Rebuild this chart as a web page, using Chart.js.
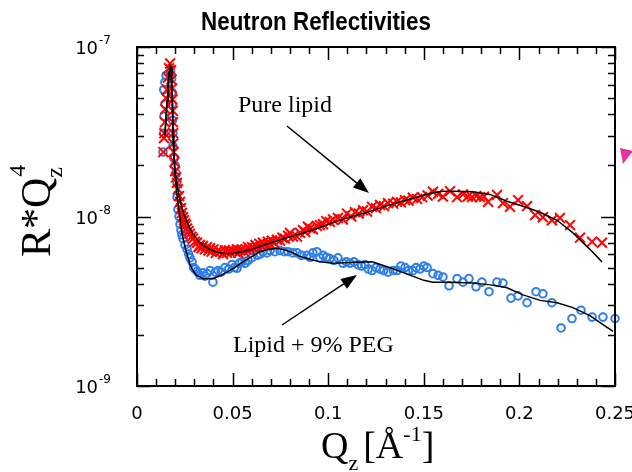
<!DOCTYPE html>
<html>
<head>
<meta charset="utf-8">
<script src="https://cdn.jsdelivr.net/npm/chart.js@4.4.0/dist/chart.umd.min.js"></script>
<style>
html, body { margin: 0; padding: 0; background: #fff; }
</style>
</head>
<body>
<canvas id="grafico" width="632" height="472"></canvas>
<script>
// --- Dados: Pure lipid (cruzes vermelhas) ---
const qPuro = [0.0138, 0.0141, 0.0143, 0.0146, 0.0148, 0.0152, 0.0157, 0.0162, 0.0168, 0.0173,
    0.0178, 0.0181, 0.0183, 0.0185, 0.0187, 0.0188, 0.0189, 0.0190, 0.0192, 0.0196,
    0.0199, 0.0204, 0.0209, 0.0214, 0.0220, 0.0225, 0.0230, 0.0235, 0.0241, 0.0246,
    0.0251, 0.0257, 0.0262, 0.0270, 0.0277, 0.0285, 0.0293, 0.0303, 0.0314, 0.0322,
    0.0329, 0.0337, 0.0345, 0.0355, 0.0366, 0.0374, 0.0382, 0.0390, 0.0400, 0.0412,
    0.0424, 0.0436, 0.0450, 0.0460, 0.0471, 0.0482, 0.0490, 0.0500, 0.0513, 0.0523,
    0.0530, 0.0540, 0.0549, 0.0560, 0.0570, 0.0581, 0.0590, 0.0601, 0.0610, 0.0620,
    0.0628, 0.0640, 0.0650, 0.0659, 0.0670, 0.0685, 0.0696, 0.0705, 0.0718, 0.0732,
    0.0748, 0.0760, 0.0774, 0.0790, 0.0800, 0.0816, 0.0837, 0.0853, 0.0868, 0.0880,
    0.0894, 0.0905, 0.0920, 0.0941, 0.0957, 0.0973, 0.0990, 0.1009, 0.1025, 0.1051,
    0.1077, 0.1098, 0.1120, 0.1140, 0.1160, 0.1182, 0.1203, 0.1229, 0.1250, 0.1271,
    0.1292, 0.1313, 0.1340, 0.1360, 0.1380, 0.1402, 0.1420, 0.1443, 0.1465, 0.1491,
    0.1520, 0.1548, 0.1575, 0.1600, 0.1637, 0.1674, 0.1705, 0.1730, 0.1752, 0.1775,
    0.1794, 0.1815, 0.1836, 0.1883, 0.1914, 0.1951, 0.1993, 0.2040, 0.2082, 0.2123,
    0.2170, 0.2212, 0.2265, 0.2317, 0.2380, 0.2432]
const rPuro = [2.4e-8, 2.9e-8, 3.1e-8, 3.6e-8, 4.3e-8, 5.0e-8, 5.6e-8, 6.6e-8, 7.5e-8, 8.0e-8,
    7.3e-8, 6.4e-8, 5.7e-8, 4.9e-8, 4.2e-8, 3.6e-8, 3.1e-8, 2.7e-8, 2.4e-8, 2.1e-8,
    1.85e-8, 1.7e-8, 1.58e-8, 1.45e-8, 1.32e-8, 1.22e-8, 1.12e-8, 1.05e-8, 9.9e-9, 9.5e-9,
    9.1e-9, 8.9e-9, 8.5e-9, 8.2e-9, 7.9e-9, 7.6e-9, 7.4e-9, 7.1e-9, 7.0e-9, 6.6e-9,
    6.8e-9, 6.5e-9, 6.7e-9, 6.4e-9, 6.6e-9, 6.3e-9, 6.5e-9, 6.2e-9, 6.4e-9, 6.1e-9,
    6.3e-9, 6.2e-9, 6.0e-9, 6.3e-9, 6.1e-9, 6.3e-9, 6.1e-9, 6.3e-9, 6.2e-9, 6.4e-9,
    6.1e-9, 6.3e-9, 6.4e-9, 6.2e-9, 6.4e-9, 6.6e-9, 6.4e-9, 6.6e-9, 6.5e-9, 6.8e-9,
    6.6e-9, 6.9e-9, 6.7e-9, 7.0e-9, 6.8e-9, 7.1e-9, 6.9e-9, 7.2e-9, 7.0e-9, 7.3e-9,
    7.2e-9, 7.5e-9, 7.4e-9, 7.7e-9, 8.0e-9, 7.6e-9, 7.6e-9, 8.0e-9, 8.3e-9, 8.1e-9,
    8.7e-9, 8.5e-9, 8.4e-9, 8.8e-9, 8.9e-9, 9.0e-9, 9.4e-9, 9.3e-9, 9.6e-9, 9.8e-9,
    9.6e-9, 1.04e-8, 1.0e-8, 1.06e-8, 1.04e-8, 1.09e-8, 1.07e-8, 1.14e-8, 1.12e-8, 1.17e-8,
    1.15e-8, 1.20e-8, 1.19e-8, 1.22e-8, 1.21e-8, 1.25e-8, 1.24e-8, 1.29e-8, 1.27e-8, 1.30e-8,
    1.33e-8, 1.40e-8, 1.36e-8, 1.31e-8, 1.41e-8, 1.30e-8, 1.35e-8, 1.31e-8, 1.30e-8, 1.32e-8,
    1.30e-8, 1.31e-8, 1.22e-8, 1.34e-8, 1.20e-8, 1.14e-8, 1.25e-8, 1.15e-8, 1.02e-8, 9.9e-9,
    9.5e-9, 9.8e-9, 8.9e-9, 7.5e-9, 7.1e-9, 7.0e-9]

// --- Dados: Lipid + 9% PEG (círculos azuis) ---
const qPeg = [0.0136, 0.0140, 0.0141, 0.0146, 0.0140, 0.0146, 0.0152, 0.0176, 0.0181, 0.0183,
    0.0184, 0.0186, 0.0188, 0.0188, 0.0194, 0.0199, 0.0204, 0.0209, 0.0209, 0.0214,
    0.0220, 0.0225, 0.0230, 0.0235, 0.0241, 0.0251, 0.0262, 0.0270, 0.0277, 0.0288,
    0.0296, 0.0303, 0.0314, 0.0329, 0.0345, 0.0355, 0.0366, 0.0382, 0.0397, 0.0410,
    0.0424, 0.0440, 0.0460, 0.0480, 0.0497, 0.0510, 0.0523, 0.0535, 0.0549, 0.0565,
    0.0581, 0.0600, 0.0628, 0.0645, 0.0659, 0.0680, 0.0696, 0.0720, 0.0748, 0.0770,
    0.0790, 0.0815, 0.0837, 0.0860, 0.0889, 0.0905, 0.0920, 0.0941, 0.0957, 0.0973,
    0.0990, 0.1009, 0.1030, 0.1051, 0.1077, 0.1095, 0.1114, 0.1135, 0.1156, 0.1175,
    0.1192, 0.1210, 0.1229, 0.1250, 0.1271, 0.1290, 0.1313, 0.1340, 0.1360, 0.1380,
    0.1402, 0.1420, 0.1443, 0.1460, 0.1480, 0.1500, 0.1517, 0.1548, 0.1575, 0.1600,
    0.1632, 0.1674, 0.1705, 0.1736, 0.1773, 0.1804, 0.1841, 0.1883, 0.1914, 0.1956,
    0.1993, 0.2040, 0.2087, 0.2123, 0.2170, 0.2218, 0.2275, 0.2322, 0.2380, 0.2437,
    0.2500]
const rPeg = [2.4e-8, 3.1e-8, 3.9e-8, 4.6e-8, 5.6e-8, 6.2e-8, 6.8e-8, 7.2e-8, 6.5e-8, 5.4e-8,
    4.6e-8, 3.7e-8, 3.1e-8, 2.6e-8, 2.2e-8, 2.0e-8, 1.8e-8, 1.6e-8, 1.3e-8, 1.1e-8,
    1.0e-8, 9.0e-9, 8.3e-9, 7.8e-9, 7.4e-9, 6.8e-9, 6.4e-9, 6.0e-9, 5.7e-9, 5.4e-9,
    5.0e-9, 4.9e-9, 4.75e-9, 4.5e-9, 4.65e-9, 4.45e-9, 4.6e-9, 4.8e-9, 4.1e-9, 4.7e-9,
    4.8e-9, 4.7e-9, 5.0e-9, 4.9e-9, 5.2e-9, 5.0e-9, 4.95e-9, 5.3e-9, 5.4e-9, 5.3e-9,
    5.5e-9, 5.7e-9, 5.9e-9, 6.0e-9, 6.2e-9, 6.1e-9, 6.3e-9, 6.2e-9, 6.3e-9, 6.2e-9,
    6.2e-9, 6.1e-9, 6.1e-9, 5.9e-9, 5.9e-9, 5.75e-9, 6.1e-9, 6.2e-9, 5.7e-9, 5.9e-9,
    5.75e-9, 5.65e-9, 5.5e-9, 5.7e-9, 5.3e-9, 5.4e-9, 5.3e-9, 5.4e-9, 5.2e-9, 5.1e-9,
    5.2e-9, 4.9e-9, 4.8e-9, 5.0e-9, 4.9e-9, 4.8e-9, 4.7e-9, 4.8e-9, 4.8e-9, 5.1e-9,
    5.0e-9, 4.8e-9, 4.8e-9, 5.0e-9, 4.9e-9, 5.1e-9, 5.0e-9, 4.6e-9, 4.5e-9, 4.4e-9,
    3.9e-9, 4.3e-9, 4.1e-9, 4.3e-9, 3.85e-9, 4.1e-9, 3.6e-9, 4.1e-9, 4.05e-9, 3.3e-9,
    3.4e-9, 3.1e-9, 3.6e-9, 3.5e-9, 3.1e-9, 2.2e-9, 2.5e-9, 2.8e-9, 2.55e-9, 2.55e-9,
    2.5e-9]

// --- Ajustes (linhas pretas) ---
const qAjustePuro = [0.0146, 0.0152, 0.0157, 0.0162, 0.0168, 0.0173, 0.0178, 0.0181, 0.0183, 0.0185,
    0.0187, 0.0189, 0.0193, 0.0199, 0.0207, 0.0214, 0.0225, 0.0235, 0.0251, 0.0270,
    0.0293, 0.0320, 0.0350, 0.0380, 0.0420, 0.0460, 0.0500, 0.0550, 0.0600, 0.0650,
    0.0700, 0.0750, 0.0800, 0.0853, 0.0940, 0.1025, 0.1110, 0.1203, 0.1290, 0.1376,
    0.1460, 0.1548, 0.1600, 0.1653, 0.1757, 0.1846, 0.1935, 0.2019, 0.2108, 0.2197,
    0.2280, 0.2369, 0.2432]
const rAjustePuro = [3.0e-8, 3.9e-8, 4.8e-8, 5.9e-8, 7.0e-8, 7.8e-8, 7.6e-8, 6.6e-8, 5.8e-8, 4.7e-8,
    3.8e-8, 3.0e-8, 2.4e-8, 1.9e-8, 1.6e-8, 1.45e-8, 1.25e-8, 1.12e-8, 9.9e-9, 8.8e-9,
    7.9e-9, 7.2e-9, 6.7e-9, 6.4e-9, 6.15e-9, 6.05e-9, 6.05e-9, 6.2e-9, 6.4e-9, 6.7e-9,
    7.0e-9, 7.3e-9, 7.6e-9, 7.9e-9, 8.5e-9, 9.2e-9, 9.9e-9, 1.06e-8, 1.14e-8, 1.22e-8,
    1.30e-8, 1.38e-8, 1.41e-8, 1.41e-8, 1.40e-8, 1.35e-8, 1.23e-8, 1.15e-8, 1.06e-8, 9.5e-9,
    8.0e-9, 6.4e-9, 5.4e-9]
const qAjustePeg = [0.0146, 0.0152, 0.0157, 0.0162, 0.0168, 0.0173, 0.0178, 0.0181, 0.0183, 0.0185,
    0.0187, 0.0189, 0.0193, 0.0199, 0.0207, 0.0214, 0.0225, 0.0235, 0.0251, 0.0262,
    0.0277, 0.0293, 0.0310, 0.0345, 0.0397, 0.0440, 0.0471, 0.0510, 0.0554, 0.0600,
    0.0643, 0.0690, 0.0732, 0.0775, 0.0816, 0.0853, 0.0905, 0.0957, 0.1025, 0.1110,
    0.1229, 0.1320, 0.1407, 0.1500, 0.1548, 0.1632, 0.1757, 0.1850, 0.1935, 0.2019,
    0.2108, 0.2197, 0.2280, 0.2369, 0.2437, 0.2490]
const rAjustePeg = [3.0e-8, 3.9e-8, 4.8e-8, 5.9e-8, 7.0e-8, 7.6e-8, 7.3e-8, 6.3e-8, 5.4e-8, 4.4e-8,
    3.5e-8, 2.8e-8, 2.2e-8, 1.75e-8, 1.4e-8, 1.2e-8, 9.6e-9, 8.0e-9, 6.6e-9, 6.0e-9,
    5.2e-9, 4.8e-9, 4.5e-9, 4.3e-9, 4.3e-9, 4.5e-9, 4.7e-9, 5.0e-9, 5.4e-9, 5.8e-9,
    6.2e-9, 6.4e-9, 6.5e-9, 6.35e-9, 6.1e-9, 5.8e-9, 5.6e-9, 5.4e-9, 5.3e-9, 5.35e-9,
    5.4e-9, 5.0e-9, 4.6e-9, 4.2e-9, 4.1e-9, 4.1e-9, 4.05e-9, 3.95e-9, 3.8e-9, 3.45e-9,
    3.2e-9, 3.1e-9, 2.9e-9, 2.6e-9, 2.3e-9, 2.1e-9]

// --- Eixos ---
const xTicksMaiores = [0, 0.05, 0.1, 0.15, 0.2, 0.25]
const xRotulos = ['0', '0.05', '0.1', '0.15', '0.2', '0.25']
const yExpoentes = [-9, -8, -7]

const pontos = (qs, rs) => qs.map((q, i) => ({ x: q, y: rs[i] }))

// Moldura, ticks para dentro, rótulos e anotações
const moldura = {
    id: 'moldura',
    afterDraw(chart) {
        const ctx = chart.ctx
        const xs = chart.scales.x
        const ys = chart.scales.y
        const { left, right, top, bottom } = chart.chartArea
        ctx.save()
        ctx.strokeStyle = '#000'
        ctx.lineWidth = 1.5

        // ticks de x (0.01 menores, 0.05 maiores)
        for (let k = 0; k <= 25; k++) {
            const px = Math.round(xs.getPixelForValue(k / 100)) + 0.5
            const len = k % 5 === 0 ? 13 : 7
            ctx.beginPath()
            ctx.moveTo(px, bottom); ctx.lineTo(px, bottom - len)
            ctx.moveTo(px, top); ctx.lineTo(px, top + len)
            ctx.stroke()
        }
        // ticks de y (log)
        yExpoentes.forEach(e => {
            for (let m = 1; m <= 9; m++) {
                if (e === -7 && m > 1) break
                const py = Math.round(ys.getPixelForValue(m * Math.pow(10, e))) + 0.5
                const len = m === 1 ? 14 : 7
                ctx.beginPath()
                ctx.moveTo(left, py); ctx.lineTo(left + len, py)
                ctx.moveTo(right, py); ctx.lineTo(right - len, py)
                ctx.stroke()
            }
        })
        ctx.lineWidth = 2
        ctx.strokeRect(left, top, right - left, bottom - top)

        // rótulos de x
        ctx.fillStyle = '#000'
        ctx.font = '18px "DejaVu Sans"'
        ctx.textAlign = 'center'
        ctx.textBaseline = 'alphabetic'
        xTicksMaiores.forEach((v, i) => {
            ctx.fillText(xRotulos[i], xs.getPixelForValue(v), 419)
        })
        // rótulos de y: 10^e
        ctx.textAlign = 'left'
        yExpoentes.forEach(e => {
            const py = ys.getPixelForValue(Math.pow(10, e))
            ctx.font = '18px "DejaVu Sans"'
            const wBase = ctx.measureText('10').width
            ctx.font = '12px "DejaVu Sans"'
            const wExp = ctx.measureText(String(e)).width
            const x0 = 111 - wBase - wExp - 1
            ctx.font = '18px "DejaVu Sans"'
            ctx.fillText('10', x0, py + 7)
            ctx.font = '12px "DejaVu Sans"'
            ctx.fillText(String(e), x0 + wBase + 1, py - 3)
        })

        // título
        ctx.save()
        ctx.font = 'bold 26px "Liberation Sans"'
        ctx.textAlign = 'center'
        ctx.translate(316, 30)
        ctx.scale(0.86, 1)
        ctx.fillText('Neutron Reflectivities', 0, 0)
        ctx.restore()

        // título do eixo x: Q_z [Å^-1]
        ctx.textAlign = 'left'
        let x = 321
        const bx = 458
        ctx.font = '38px "Liberation Serif"'
        ctx.fillText('Q', x, bx); x += ctx.measureText('Q').width
        ctx.font = '22px "Liberation Serif"'
        ctx.fillText('z', x, bx + 12); x += ctx.measureText('z').width + 5
        ctx.font = '38px "Liberation Serif"'
        ctx.fillText('[Å', x, bx); x += ctx.measureText('[Å').width
        ctx.font = '22px "Liberation Serif"'
        ctx.fillText('-1', x, bx - 17); x += ctx.measureText('-1').width
        ctx.font = '38px "Liberation Serif"'
        ctx.fillText(']', x, bx)

        // título do eixo y: R*Q_z^4 (rotacionado)
        ctx.save()
        ctx.translate(50, 257)
        ctx.rotate(-Math.PI / 2)
        ctx.font = '42px "Liberation Serif"'
        let t = 0
        ctx.fillText('R*Q', t, 0); t += ctx.measureText('R*Q').width
        ctx.font = '24px "Liberation Serif"'
        ctx.fillText('z', t, 12)
        ctx.fillText('4', t + 1, -25)
        ctx.restore()

        // anotações
        ctx.font = '24px "Liberation Serif"'
        ctx.fillText('Pure lipid', 238, 112)
        ctx.fillText('Lipid + 9% PEG', 233, 352)
        seta(ctx, 287, 126, 369, 193)
        seta(ctx, 282, 325, 357, 275)

        // triângulo magenta na borda
        ctx.fillStyle = '#e4339a'
        ctx.beginPath()
        ctx.moveTo(620, 148); ctx.lineTo(633, 151); ctx.lineTo(623, 164)
        ctx.closePath(); ctx.fill()
        ctx.restore()
    }
}

function seta(ctx, x1, y1, x2, y2) {
    const ang = Math.atan2(y2 - y1, x2 - x1)
    const L = 16, W = 6
    const bx = x2 - L * Math.cos(ang), by = y2 - L * Math.sin(ang)
    ctx.strokeStyle = '#000'
    ctx.fillStyle = '#000'
    ctx.lineWidth = 1.5
    ctx.beginPath()
    ctx.moveTo(x1, y1); ctx.lineTo(bx, by)
    ctx.stroke()
    ctx.beginPath()
    ctx.moveTo(x2, y2)
    ctx.lineTo(bx + W * Math.sin(ang), by - W * Math.cos(ang))
    ctx.lineTo(bx - W * Math.sin(ang), by + W * Math.cos(ang))
    ctx.closePath()
    ctx.fill()
}

new Chart(document.getElementById('grafico').getContext('2d'), {
    type: 'scatter',
    data: {
        datasets: [
            {
                label: 'Ajuste pure lipid',
                data: pontos(qAjustePuro, rAjustePuro),
                showLine: true, pointRadius: 0, borderColor: '#000', borderWidth: 1.5, clip: false
            },
            {
                label: 'Ajuste PEG',
                data: pontos(qAjustePeg, rAjustePeg),
                showLine: true, pointRadius: 0, borderColor: '#000', borderWidth: 1.5, clip: false
            },
            {
                label: 'Pure lipid',
                data: pontos(qPuro, rPuro),
                pointStyle: 'crossRot', pointRadius: 7, borderWidth: 2,
                borderColor: '#ff0000', backgroundColor: '#ff0000', clip: false
            },
            {
                label: 'Lipid + 9% PEG',
                data: pontos(qPeg, rPeg),
                pointStyle: 'circle', pointRadius: 3.8, borderWidth: 2,
                borderColor: '#2f7ee8', backgroundColor: 'rgba(255,255,255,0)', clip: false
            }
        ]
    },
    options: {
        responsive: false,
        animation: false,
        devicePixelRatio: 1,
        layout: { padding: { left: 137, right: 17, top: 47, bottom: 86 } },
        plugins: { legend: { display: false }, tooltip: { enabled: false } },
        scales: {
            x: { type: 'linear', min: 0, max: 0.25, display: false },
            y: { type: 'logarithmic', min: 1e-9, max: 1e-7, display: false }
        }
    },
    plugins: [moldura]
})
</script>
</body>
</html>
